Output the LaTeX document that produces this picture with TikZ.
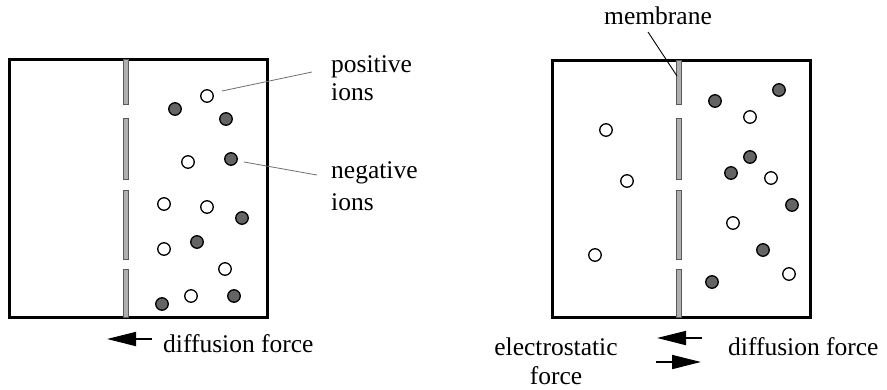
\documentclass[tikz,border=0pt]{standalone}
\usepackage{fontspec}
\setmainfont{Liberation Serif}
\newfontfamily\lblserif{Liberation Serif}
\usetikzlibrary{arrows.meta}
\definecolor{ionfill}{RGB}{100,100,100}
\definecolor{memfill}{RGB}{175,175,175}
\definecolor{memline}{RGB}{90,90,90}
\definecolor{leadgray}{RGB}{110,110,110}
\tikzset{
  tank/.style={draw=black, line width=3pt},
  memseg/.style={draw=memline, fill=memfill, line width=0.7pt},
  posion/.style={circle, draw=black, fill=white, line width=1.3pt, minimum size=12.5pt, inner sep=0pt},
  negion/.style={circle, draw=black, fill=ionfill, line width=1.3pt, minimum size=12.5pt, inner sep=0pt},
  lblfont/.style={font=\lblserif\fontsize{25.5}{28}\selectfont, inner sep=0pt},
  lbl/.style={lblfont, anchor=base west},
  clbl/.style={lblfont, anchor=base},
  leader/.style={draw=leadgray, line width=0.8pt},
  forcearrow/.style={line width=1.8pt, -{Triangle[length=29pt,width=14pt]}}
}
\begin{document}
\begin{tikzpicture}[x=1pt,y=-1pt]
\useasboundingbox (0,0) rectangle (887,389);

% ---------- left tank ----------
\draw[tank] (9,59) rectangle (267,317);
\foreach \a/\b in {59/104, 118/179, 190/259, 269/317}
  \draw[memseg] (123.5,\a) rectangle (128.5,\b);

\node[posion] (lp1) at (207,96) {};
\node[negion] (ln1) at (175,109) {};
\node[negion] (ln2) at (226,119) {};
\node[posion] (lp2) at (188,162) {};
\node[negion] (ln3) at (231,159) {};
\node[posion] (lp3) at (164,204) {};
\node[posion] (lp4) at (207,207) {};
\node[negion] (ln4) at (242,218) {};
\node[posion] (lp5) at (164,249) {};
\node[negion] (ln5) at (197,242) {};
\node[posion] (lp6) at (225,269) {};
\node[posion] (lp7) at (191,296) {};
\node[negion] (ln6) at (234,296) {};
\node[negion] (ln7) at (162,304) {};

\node[lbl] (pos1) at (331,72) {positive};
\node[lbl] (pos2) at (331,100) {ions};
\node[lbl] (neg1) at (331,178) {negative};
\node[lbl] (neg2) at (331,210) {ions};

\coordinate (posA) at (222,91);
\coordinate (posB) at (312,72);
\coordinate (negA) at (244,162);
\coordinate (negB) at (317,175);
\draw[leader] (posA) -- (posB);
\draw[leader] (negA) -- (negB);

\coordinate (ltail) at (152,339);
\coordinate (ltip) at (107,339);
\draw[forcearrow] (ltail) -- (ltip);
\node[lbl] (ldiff) at (163,352) {diffusion force};

% ---------- right tank ----------
\draw[tank] (552,60) rectangle (810,317);
\foreach \a/\b in {60/104, 118/179, 190/259, 269/317}
  \draw[memseg] (676.5,\a) rectangle (681.5,\b);

\node[negion] (rn1) at (715,101) {};
\node[negion] (rn2) at (779,90) {};
\node[posion] (rp1) at (750,117) {};
\node[posion] (rp2) at (606,130) {};
\node[negion] (rn3) at (750,157) {};
\node[negion] (rn4) at (731,173) {};
\node[posion] (rp3) at (771,178) {};
\node[posion] (rp4) at (627,181) {};
\node[negion] (rn5) at (792,205) {};
\node[posion] (rp5) at (733,223) {};
\node[negion] (rn6) at (763,250) {};
\node[posion] (rp6) at (595,255) {};
\node[posion] (rp7) at (789,274) {};
\node[negion] (rn7) at (712,282) {};

\node[clbl] (memlbl) at (658,24) {membrane};
\coordinate (memA) at (648,32);
\coordinate (memB) at (677,76);
\draw[black, line width=0.9pt] (memA) -- (memB);

\coordinate (r1tail) at (702,338);
\coordinate (r1tip) at (657,338);
\draw[forcearrow] (r1tail) -- (r1tip);
\coordinate (r2tail) at (656,362);
\coordinate (r2tip) at (701,362);
\draw[forcearrow] (r2tail) -- (r2tip);

\node[lbl] (rdiff) at (728,355) {diffusion force};
\node[clbl] (elec1) at (556,355) {electrostatic};
\node[clbl] (elec2) at (556,384) {force};
\end{tikzpicture}
\end{document}
